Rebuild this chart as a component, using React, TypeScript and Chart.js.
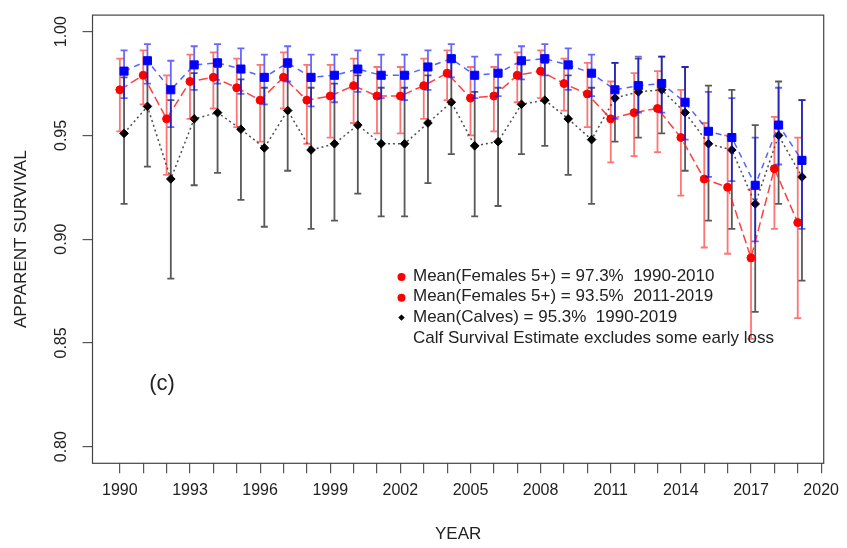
import React, { useEffect, useRef } from 'react';
import { Chart, registerables } from 'chart.js';

Chart.register(...registerables);

const years = [1990, 1991, 1992, 1993, 1994, 1995, 1996, 1997, 1998, 1999, 2000, 2001, 2002, 2003, 2004, 2005, 2006, 2007, 2008, 2009, 2010, 2011, 2012, 2013, 2014, 2015, 2016, 2017, 2018, 2019];

// Females 5+ (red)
const femalesMean = [0.972, 0.979, 0.958, 0.976, 0.978, 0.973, 0.967, 0.978, 0.967, 0.969, 0.974, 0.969, 0.969, 0.974, 0.980, 0.968, 0.969, 0.979, 0.981, 0.975, 0.970, 0.958, 0.961, 0.963, 0.949, 0.929, 0.925, 0.891, 0.934, 0.908];
const femalesLow = [0.952, 0.965, 0.931, 0.958, 0.963, 0.954, 0.947, 0.963, 0.946, 0.949, 0.956, 0.951, 0.951, 0.958, 0.967, 0.950, 0.952, 0.966, 0.968, 0.962, 0.954, 0.937, 0.940, 0.942, 0.921, 0.896, 0.893, 0.852, 0.905, 0.862];
const femalesHigh = [0.987, 0.991, 0.979, 0.989, 0.990, 0.987, 0.984, 0.990, 0.984, 0.984, 0.987, 0.983, 0.983, 0.987, 0.991, 0.983, 0.983, 0.990, 0.991, 0.987, 0.985, 0.976, 0.980, 0.981, 0.972, 0.956, 0.950, 0.924, 0.959, 0.949];

// Calves (black)
const calvesMean = [0.951, 0.964, 0.929, 0.958, 0.961, 0.953, 0.944, 0.962, 0.943, 0.946, 0.955, 0.946, 0.946, 0.956, 0.966, 0.945, 0.947, 0.965, 0.967, 0.958, 0.948, 0.968, 0.971, 0.972, 0.961, 0.946, 0.943, 0.917, 0.950, 0.930];
const calvesLow = [0.917, 0.935, 0.881, 0.926, 0.932, 0.919, 0.906, 0.933, 0.905, 0.909, 0.922, 0.911, 0.911, 0.927, 0.941, 0.911, 0.916, 0.941, 0.945, 0.931, 0.917, 0.947, 0.949, 0.951, 0.933, 0.909, 0.905, 0.865, 0.917, 0.880];
const calvesHigh = [0.978, 0.985, 0.967, 0.980, 0.983, 0.977, 0.973, 0.983, 0.973, 0.975, 0.979, 0.973, 0.973, 0.979, 0.986, 0.971, 0.973, 0.985, 0.985, 0.979, 0.973, 0.985, 0.987, 0.988, 0.983, 0.974, 0.972, 0.955, 0.976, 0.967];

// Blue series
const blueMean = [0.981, 0.986, 0.972, 0.984, 0.985, 0.982, 0.978, 0.985, 0.978, 0.979, 0.982, 0.979, 0.979, 0.983, 0.987, 0.979, 0.980, 0.986, 0.987, 0.984, 0.980, 0.972, 0.974, 0.975, 0.966, 0.952, 0.949, 0.926, 0.955, 0.938];
const blueLow = [0.968, 0.975, 0.954, 0.972, 0.975, 0.970, 0.965, 0.976, 0.964, 0.966, 0.971, 0.968, 0.967, 0.972, 0.978, 0.968, 0.969, 0.977, 0.979, 0.972, 0.969, 0.958, 0.961, 0.961, 0.948, 0.930, 0.928, 0.899, 0.936, 0.905];
const blueHigh = [0.991, 0.994, 0.986, 0.993, 0.994, 0.992, 0.989, 0.993, 0.989, 0.989, 0.991, 0.989, 0.989, 0.991, 0.994, 0.988, 0.989, 0.993, 0.994, 0.992, 0.989, 0.985, 0.988, 0.988, 0.983, 0.971, 0.968, 0.949, 0.973, 0.967];

const xTickValues = [1990, 1991, 1992, 1993, 1994, 1995, 1996, 1997, 1998, 1999, 2000, 2001, 2002, 2003, 2004, 2005, 2006, 2007, 2008, 2009, 2010, 2011, 2012, 2013, 2014, 2015, 2016, 2017, 2018, 2019, 2020];
const xTickLabels = ['1990', '1993', '1996', '1999', '2002', '2005', '2008', '2011', '2014', '2017', '2020'];
const yTickValues = [0.8, 0.85, 0.9, 0.95, 1.0];

const legendLines = [
  'Mean(Females 5+) = 97.3%  1990-2010',
  'Mean(Females 5+) = 93.5%  2011-2019',
  'Mean(Calves) = 95.3%  1990-2019',
  'Calf Survival Estimate excludes some early loss',
];
const legendMarkers = ['redDot', 'redDot', 'blackDiamond', 'none'];
const panelLabel = '(c)';

const FONT = "'Liberation Sans', Arial, sans-serif";
const SHIFT = 0.18;

const errorBarPlugin = {
  id: 'errorBars',
  beforeDatasetDraw(chart: any, args: any) {
    const ds = chart.data.datasets[args.index];
    if (!ds.errLow) return;
    const ctx = chart.ctx;
    const xs = chart.scales.x;
    const ys = chart.scales.y;
    const cap = 3.5;
    ctx.save();
    ctx.strokeStyle = ds.errColor;
    ctx.lineWidth = ds.errWidth;
    ds.data.forEach((p: any, i: number) => {
      const x = xs.getPixelForValue(p.x);
      const yl = ys.getPixelForValue(ds.errLow[i]);
      const yh = ys.getPixelForValue(ds.errHigh[i]);
      ctx.beginPath();
      ctx.moveTo(x, yl);
      ctx.lineTo(x, yh);
      ctx.moveTo(x - cap, yl);
      ctx.lineTo(x + cap, yl);
      ctx.moveTo(x - cap, yh);
      ctx.lineTo(x + cap, yh);
      ctx.stroke();
    });
    ctx.restore();
  },
};

const decorPlugin = {
  id: 'decor',
  afterDraw(chart: any) {
    const ctx = chart.ctx;
    const a = chart.chartArea;
    ctx.save();
    ctx.strokeStyle = '#444';
    ctx.lineWidth = 1.2;
    ctx.strokeRect(a.left, a.top, a.right - a.left, a.bottom - a.top);

    // legend text block
    const lx = 401.5;
    const tx = 413;
    const ty0 = 276;
    const dy = 20.8;
    ctx.font = `17px ${FONT}`;
    ctx.textBaseline = 'middle';
    ctx.textAlign = 'left';
    legendLines.forEach((t, i) => {
      const y = ty0 + i * dy;
      const m = legendMarkers[i];
      if (m === 'redDot') {
        ctx.fillStyle = '#ff0000';
        ctx.beginPath();
        ctx.arc(lx, y + 1, 4, 0, Math.PI * 2);
        ctx.fill();
      } else if (m === 'blackDiamond') {
        ctx.fillStyle = '#000';
        ctx.beginPath();
        ctx.moveTo(lx, y - 3.2);
        ctx.lineTo(lx + 3.2, y);
        ctx.lineTo(lx, y + 3.2);
        ctx.lineTo(lx - 3.2, y);
        ctx.closePath();
        ctx.fill();
      }
      ctx.fillStyle = '#222';
      ctx.fillText(t, tx, y);
    });

    ctx.font = `22px ${FONT}`;
    ctx.textAlign = 'center';
    ctx.fillStyle = '#222';
    ctx.fillText(panelLabel, 162, 384);
    ctx.restore();
  },
};

export default function App() {
  const ref = useRef<HTMLCanvasElement | null>(null);

  useEffect(() => {
    document.body.style.margin = '0';
    const canvas = ref.current;
    if (!canvas) return;

    const mk = (vals: number[], shift: number) => years.map((yr, i) => ({ x: yr + shift, y: vals[i] }));

    const chart = new Chart(canvas, {
      type: 'line',
      data: {
        datasets: [
          {
            label: 'Blue',
            data: mk(blueMean, SHIFT),
            order: 0,
            borderColor: 'rgba(40,60,255,0.8)',
            borderWidth: 1.5,
            borderDash: [6, 5],
            pointStyle: 'rect',
            pointRadius: 5.7,
            pointBackgroundColor: '#0000ff',
            pointBorderColor: '#0000ff',
            pointBorderWidth: 1,
            fill: false,
            tension: 0,
            errLow: blueLow,
            errHigh: blueHigh,
            errColor: 'rgba(0,0,255,0.6)',
            errWidth: 1.8,
          } as any,
          {
            label: 'Females 5+',
            data: mk(femalesMean, 0),
            order: 1,
            borderColor: 'rgba(255,30,30,0.85)',
            borderWidth: 1.5,
            borderDash: [9, 4],
            pointStyle: 'circle',
            pointRadius: 4,
            pointBackgroundColor: '#ff0000',
            pointBorderColor: '#ff0000',
            pointBorderWidth: 1,
            fill: false,
            tension: 0,
            errLow: femalesLow,
            errHigh: femalesHigh,
            errColor: 'rgba(255,0,0,0.55)',
            errWidth: 1.8,
          } as any,
          {
            label: 'Calves',
            data: mk(calvesMean, SHIFT),
            order: 2,
            borderColor: 'rgba(60,60,60,0.9)',
            borderWidth: 1.5,
            borderDash: [2, 3],
            pointStyle: 'rectRot',
            pointRadius: 4.3,
            pointBackgroundColor: '#000',
            pointBorderColor: '#000',
            pointBorderWidth: 1,
            fill: false,
            tension: 0,
            errLow: calvesLow,
            errHigh: calvesHigh,
            errColor: 'rgba(0,0,0,0.65)',
            errWidth: 1.8,
          } as any,
        ],
      },
      options: {
        responsive: false,
        animation: false,
        devicePixelRatio: 1,
        layout: { padding: { left: 0, right: 19.3, top: 6.7, bottom: 0 } },
        plugins: {
          legend: { display: false },
          tooltip: { enabled: false },
        },
        scales: {
          x: {
            type: 'linear',
            min: 1988.83,
            max: 2020.11,
            afterBuildTicks: (scale: any) => {
              scale.ticks = xTickValues.map((v) => ({ value: v }));
            },
            afterFit: (scale: any) => {
              scale.height = 84.7;
            },
            border: { display: false },
            grid: {
              display: true,
              drawOnChartArea: false,
              drawTicks: true,
              tickLength: 10,
              color: '#555',
              tickColor: '#555',
              lineWidth: 1.2,
            },
            ticks: {
              autoSkip: false,
              maxRotation: 0,
              minRotation: 0,
              padding: 8,
              color: '#222',
              font: { family: FONT, size: 16 },
              callback: (v: any) => (xTickLabels.includes(String(v)) ? String(v) : ''),
            },
            title: {
              display: true,
              text: 'YEAR',
              color: '#222',
              font: { family: FONT, size: 17 },
              padding: { top: 0, bottom: 3 },
            },
          },
          y: {
            type: 'linear',
            min: 0.792,
            max: 1.008,
            afterBuildTicks: (scale: any) => {
              scale.ticks = yTickValues.map((v) => ({ value: v }));
            },
            afterFit: (scale: any) => {
              scale.width = 92.5;
            },
            border: { display: false },
            grid: {
              display: true,
              drawOnChartArea: false,
              drawTicks: true,
              tickLength: 10,
              color: '#555',
              tickColor: '#555',
              lineWidth: 1.2,
            },
            ticks: {
              minRotation: 90,
              maxRotation: 90,
              crossAlign: 'center',
              padding: 5.5,
              color: '#222',
              font: { family: FONT, size: 16 },
              callback: (v: any) => Number(v).toFixed(2),
            },
            title: {
              display: true,
              text: 'APPARENT SURVIVAL',
              color: '#222',
              font: { family: FONT, size: 17 },
              padding: { top: 11.5, bottom: 0 },
            },
          },
        },
      } as any,
      plugins: [errorBarPlugin, decorPlugin],
    });

    return () => {
      chart.destroy();
    };
  }, []);

  return <canvas ref={ref} width={847} height={548} style={{ display: 'block' }} />;
}
